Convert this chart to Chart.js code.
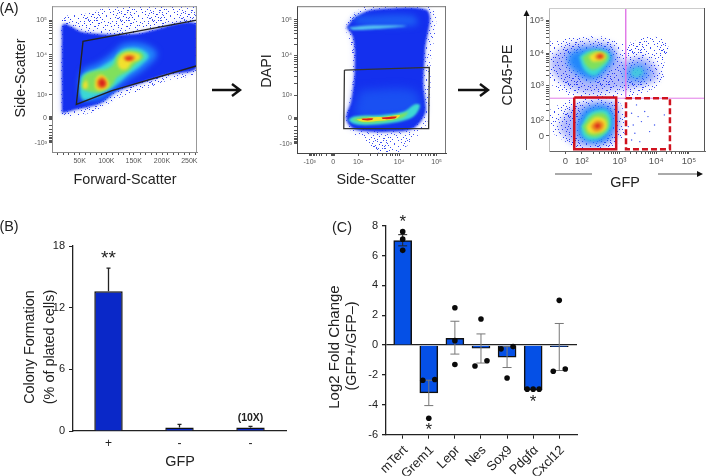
<!DOCTYPE html>
<html>
<head>
<meta charset="utf-8">
<title>Flow gating and colony formation</title>
<script src="https://cdn.jsdelivr.net/npm/chart.js@4/dist/chart.umd.min.js"></script>
<style>
html, body { margin: 0; padding: 0; background: #fff; }
#page { position: relative; width: 709px; height: 476px; overflow: hidden; font-family: "Liberation Sans", Arial, sans-serif; color: #222; }
canvas { position: absolute; left: 0; top: 0; }
svg { position: absolute; left: 0; top: 0; }
.txt { position: absolute; white-space: nowrap; transform: translate(-50%, -50%); font-size: 14.4px; line-height: 1; }
.rot { transform: translate(-50%, -50%) rotate(-90deg); }
</style>
</head>
<body>
<div id="page">
  <canvas id="a1" width="709" height="476"></canvas>
  <canvas id="a2" width="709" height="476"></canvas>
  <canvas id="a3" width="709" height="476"></canvas>
  <canvas id="b" width="709" height="476"></canvas>
  <canvas id="c" width="709" height="476"></canvas>
  <svg width="709" height="476">
    <g fill="none" stroke="#111" stroke-width="2.4">
      <path d="M212 90H239M232 84L240 90L232 96"/>
      <path d="M458 90H487M480 84L488 90L480 96"/>
    </g>
    <g fill="none" stroke="#555" stroke-width="1">
      <path d="M526.5 150V14"/>
      <path d="M555 174H592M658 174H698"/>
    </g>
    <path d="M526.5 10L523.5 16H529.5Z" fill="#111"/>
    <path d="M703 174L697 171V177Z" fill="#111"/>
  </svg>
  <div class="txt" style="left:9px;top:8px">(A)</div>
  <div class="txt" style="left:9px;top:226px">(B)</div>
  <div class="txt" style="left:342px;top:227px">(C)</div>
  <div class="txt rot" style="left:20px;top:78px">Side-Scatter</div>
  <div class="txt" style="left:125px;top:179px">Forward-Scatter</div>
  <div class="txt rot" style="left:266px;top:71px">DAPI</div>
  <div class="txt" style="left:376px;top:179px">Side-Scatter</div>
  <div class="txt rot" style="left:507px;top:75px">CD45-PE</div>
  <div class="txt" style="left:625px;top:182px">GFP</div>
  <div class="txt rot" style="left:29px;top:347px">Colony Formation</div>
  <div class="txt rot" style="left:49px;top:347px">(% of plated cells)</div>
  <div class="txt" style="left:180px;top:461px">GFP</div>
  <div class="txt rot" style="left:333px;top:347px;font-size:15px">Log2 Fold Change</div>
  <div class="txt rot" style="left:351px;top:346px">(GFP+/GFP&#8211;)</div>
</div>
<script>
// channel units: flow plots are read as display channels, not decades
const a1XTicks = [83, 163, 245, 330, 412];
const a1XLabels = ['50K', '100K', '150K', '200K', '250K'];
const a1YTicks = [397, 293, 172, 103, 28];
const a2XTicks = [38, 108, 183, 306, 418];
const a2XLabels = ['-10³', '0', '10³', '10⁴', '10⁵'];
const a2YTicks = [405, 297, 176, 105, 28];
const biexLabels = ['10⁵', '10⁴', '10³', '0', '-10³'];
const a3XTicks = [50, 100, 215, 327, 427];
const a3XLabels = ['0', '10²', '10³', '10⁴', '10⁵'];
const a3YTicks = [391, 293, 195, 91, 45];
const a3YLabels = ['10⁵', '10⁴', '10³', '10²', '0'];

const a1Speckle = [[28,110],[28,345],[35,405],[105,417],[175,435],[435,439],[435,245],[345,215],[265,185],[195,160],[145,130],[85,110]];
const a1Blue = [[30,117],[30,345],[35,385],[95,360],[245,355],[435,385],[435,255],[345,233],[265,207],[195,183],[145,147],[80,130]];
const a1Azure = [[85,155],[90,240],[145,270],[185,300],[215,325],[275,325],[315,295],[275,250],[230,220],[190,190],[145,160]];
const a1Cyan = [[83,180],[90,230],[135,250],[185,280],[210,307],[260,312],[290,290],[265,260],[230,235],[190,200],[145,175],[95,157]];
const a1Green = [[88,195],[97,230],[130,245],[165,250],[185,265],[195,290],[225,305],[265,300],[275,285],[250,265],[230,245],[195,225],[180,200],[145,180],[107,183]];
const a1YellowA = [[205,290],[225,300],[260,295],[263,280],[240,270],[225,250],[205,250],[197,270]];
const a1YellowB = [[130,220],[145,233],[165,220],[170,197],[145,185],[130,193]];
const a1YellowC = [[93,205],[103,217],[107,195],[95,190]];
const a1OrangeA = [[213,285],[230,293],[250,287],[243,277],[225,275]];
const a1OrangeB = [[135,215],[150,227],[163,213],[163,197],[145,191],[135,199]];
const a1RedA = [[217,283],[235,287],[243,281],[225,277]];
const a1RedB = [[140,212],[150,220],[160,210],[157,199],[145,197]];
const a1Gate = [[435,260],[180,185],[73,143],[93,333],[435,397]];
const a1EdgeTeal = [[434,439],[434,405]];
const a1EdgeRed = [[434,370],[434,285]];
const a1EdgeGreen = [[434,285],[434,265]];

const a2Speckle = [[163,420],[208,446],[403,446],[400,260],[398,160],[388,90],[348,40],[298,0],[248,0],[198,40],[163,65],[146,110],[158,160],[168,240],[158,340],[146,380]];
const a2Blue = [[148,382],[173,410],[228,435],[388,435],[383,310],[378,210],[383,160],[383,120],[348,75],[288,65],[218,65],[168,75],[148,105],[163,160],[173,260],[168,350]];
const a2AzureTop = [[173,415],[348,418],[358,388],[178,392]];
const a2AzureLow = [[188,190],[348,190],[368,140],[328,110],[178,110]];
const a2CyanBand = [[153,382],[228,388],[328,386],[228,376],[168,374]];
const a2CyanLow = [[153,102],[173,112],[248,115],[318,125],[353,148],[368,145],[353,115],[318,98],[258,88],[188,85],[163,92]];
const a2Green = [[163,102],[198,110],[258,110],[318,120],[333,125],[318,108],[258,95],[198,92]];
const a2Yellow = [[178,102],[218,108],[268,110],[308,115],[298,105],[248,98],[198,95]];
const a2OrangeA = [[193,104],[228,105],[223,100],[198,100]];
const a2OrangeB = [[253,108],[298,111],[293,105],[258,103]];
const a2Gate = [[142,252],[396,260],[394,74],[140,74],[142,252]];

const a3SpeckleUp = [[2,328],[62,338],[162,343],[232,323],[312,343],[362,323],[352,263],[347,213],[302,178],[232,163],[92,163],[32,178],[2,213]];
const a3SpeckleLow = [[2,123],[62,153],[202,155],[232,103],[222,33],[162,8],[92,8],[42,33],[7,63]];
const a3BlueUp = [[7,283],[62,318],[152,328],[202,313],[222,273],[282,283],[327,253],[332,218],[282,193],[212,183],[112,173],[42,203],[7,243]];
const a3BlueLow = [[27,73],[52,113],[92,143],[202,148],[217,93],[202,33],[152,13],[92,13],[47,43]];
const a3AzureUp = [[62,293],[112,308],[182,303],[197,278],[172,238],[132,213],[92,228],[57,263]];
const a3CyanUp = [[92,283],[122,301],[177,298],[187,278],[162,243],[137,225],[107,243]];
const a3GreenUp = [[102,281],[132,298],[174,293],[180,275],[157,253],[132,243],[112,258]];
const a3YellowUp = [[122,283],[147,296],[172,288],[167,273],[147,268],[132,268]];
const a3OrangeUp = [[140,285],[157,293],[169,283],[157,275],[144,276]];
const a3RedUp = [[147,285],[160,288],[164,281],[152,278]];
const a3AzureRight = [[232,248],[272,263],[302,248],[302,218],[262,208],[232,218]];
const a3CyanRight = [[252,243],[277,250],[287,233],[267,221],[252,225]];
const a3AzureLow = [[82,73],[107,123],[162,138],[192,123],[202,83],[177,33],[132,23],[92,43]];
const a3CyanLow = [[97,73],[122,113],[167,125],[187,108],[187,68],[157,38],[122,33],[102,48]];
const a3GreenLow = [[102,73],[132,108],[167,113],[182,93],[177,63],[147,43],[117,48]];
const a3YellowLow = [[114,75],[142,101],[172,93],[174,68],[147,53],[122,55]];
const a3OrangeLow = [[127,75],[147,91],[167,83],[162,65],[140,58]];
const a3RedLow = [[138,75],[150,82],[157,75],[147,68]];
const a3GfpDots = [[252,113],[272,103],[282,88],[307,58],[262,53],[242,73],[292,118],[322,78],[252,33],[277,28],[302,103],[352,108],[267,138],[257,78]];
const a3SolidGate = [[77,160],[205,160],[205,5],[77,5],[77,160]];
const a3DashGate = [[235,158],[369,158],[369,5],[235,5],[235,158]];
const a3QuadV = [[234,428],[234,158]];
const a3QuadH = [[0,158],[476,158]];
const a3TopLine = [[41,428],[407,428]];

const bLabels = ['+', '-', '-'];
const bValues = [13.6, 0.35, 0.35];
const bErrHigh = [15.85, 0.65, 0.45];

const cGenes = ['mTert', 'Grem1', 'Lepr', 'Nes', 'Sox9', 'Pdgfα', 'Cxcl12'];
const cValues = [7.0, -3.2, 0.45, -0.2, -0.8, -3.0, -0.1];
const cErrLow = [6.65, -4.05, -0.6, -1.2, -1.5, -3.0, -1.7];
const cErrHigh = [7.4, -2.35, 1.6, 0.75, -0.1, -3.0, 1.45];
const cDots = [[0,7.6],[0,7.1],[0,6.35],[0.77,-2.35],[1,-4.9],[1.23,-2.3],[2,2.5],[2,0.3],[2,-1.3],[2.77,-1.4],[3,1.75],[3.23,-1.05],[3.77,-0.25],[4,-2.2],[4.23,-0.1],[4.77,-2.95],[5,-2.95],[5.23,-2.95],[5.77,-1.75],[6,3.0],[6.23,-1.6]];

const BLUE = '#1430ee', AZURE = '#2288fb', CYAN = '#3cd8d4', GREEN = '#80e05c', YELLOW = '#f2e02e', ORANGE = '#ee8a22', RED = '#d8201c';
const HALO = 'rgba(50,70,245,0.38)';
const SOFT = 'blur(1.6px)', FAINT = 'blur(0.3px)', WIDE = 'blur(3px)';

Chart.defaults.font.family = '"Liberation Sans", Arial, sans-serif';
Chart.defaults.animation = false;
Chart.defaults.plugins.legend.display = false;
Chart.defaults.plugins.tooltip.enabled = false;
Chart.defaults.events = [];

// dot tile used as the fill for the sparse outer cells; the flips break up the lattice
function speckle(alpha, dense) {
    const dots = [[1,2],[5,0],[9,3],[14,1],[3,6],[7,5],[12,7],[15,4],[0,10],[4,9],[8,11],[13,9],[2,14],[6,13],[10,15],[14,12],[11,1],[1,7],[6,9],[10,6]];
    const tile = document.createElement('canvas');
    tile.width = tile.height = 32;
    const t = tile.getContext('2d');
    t.fillStyle = 'rgba(30,50,240,' + alpha + ')';
    dots.forEach((d, i) => {
        if (dense || i % 2) t.fillRect(d[0], d[1], 1, 1);
        if (dense || i % 3 === 0) t.fillRect(16 + d[1], d[0], 1, 1);
        if (dense || i % 2 === 0) t.fillRect(15 - d[0], 16 + d[1], 1, 1);
        if (dense || i % 3 === 1) t.fillRect(31 - d[1], 31 - d[0], 1, 1);
        if (dense) t.fillRect((d[0] + 20) % 32, (d[1] + 11) % 32, 1, 1);
    });
    return t.createPattern(tile, 'repeat');
}

function shape(pts, color, blur) {
    return {
        data: pts.concat([pts[0]]),
        showLine: true, fill: 'shape', backgroundColor: color,
        borderWidth: 0, pointRadius: 0, tension: 0.35, blur: blur || SOFT,
    };
}

function gate(pts, color, width, dash) {
    return {
        data: pts, showLine: true, fill: false, borderColor: color, borderWidth: width,
        borderDash: dash || [], pointRadius: 0, tension: 0, blur: 'none',
    };
}

function decades(from, to) {
    const out = [];
    [2, 3, 4, 5, 6, 7, 8, 9].forEach(k => out.push(from + (to - from) * Math.log10(k)));
    return out;
}

// filler paints before inline hooks run, so each dataset's filter is set after the previous one
const softFill = {
    id: 'softFill',
    beforeDraw(chart) {
        const ds = chart.data.datasets;
        chart.ctx.filter = ds[ds.length - 1].blur || 'none';
    },
    afterDatasetDraw(chart, args) {
        const next = chart.data.datasets[args.index - 1];
        chart.ctx.filter = next && next.blur ? next.blur : 'none';
    },
    afterDatasetsDraw(chart) {
        chart.ctx.filter = 'none';
    },
};

const frameBox = {
    id: 'frameBox',
    afterDraw(chart, args, opts) {
        const a = chart.chartArea, ctx = chart.ctx;
        ctx.save();
        ctx.lineWidth = 1;
        ctx.strokeStyle = opts.top;
        ctx.beginPath(); ctx.moveTo(a.left, a.top + 0.5); ctx.lineTo(a.right, a.top + 0.5); ctx.stroke();
        ctx.strokeStyle = opts.right;
        ctx.beginPath(); ctx.moveTo(a.right - 0.5, a.top); ctx.lineTo(a.right - 0.5, a.bottom); ctx.stroke();
        ctx.restore();
    },
};

function flowAxis(min, max, ticks, labels, minor, size, color, fixed) {
    const all = ticks.concat(minor);
    return {
        type: 'linear', min: min, max: max,
        afterBuildTicks: s => { s.ticks = all.map(v => ({ value: v })); },
        afterFit: s => { if (s.isHorizontal()) s.height = fixed; else s.width = fixed; },
        grid: { drawOnChartArea: false, tickLength: 3, tickColor: '#555', tickWidth: 1, z: 1 },
        border: { color: color, width: 1, z: 1 },
        ticks: {
            z: 1, autoSkip: false, maxRotation: 0, padding: 2, color: '#555',
            font: { size: size },
            callback: v => { const i = ticks.indexOf(v); return i < 0 ? '' : labels[i]; },
        },
    };
}

function flowChart(id, box, sets, xAxis, yAxis, top, right) {
    const xh = xAxis.afterFit ? 24 : 0, yw = 32;
    new Chart(document.getElementById(id), {
        type: 'scatter',
        data: { datasets: sets.slice().reverse() },
        options: {
            responsive: false,
            layout: { padding: { left: box.l - yw, top: box.t, right: 709 - box.r, bottom: 476 - box.b - xh } },
            scales: { x: xAxis, y: yAxis },
            plugins: { frameBox: { top: top, right: right } },
        },
        plugins: [softFill, frameBox],
    });
}

// error bars go on top of the bars but under the dots
function errorBars(values, low, high, width, cap, colorOf) {
    return {
        id: 'errorBars',
        afterDatasetDraw(chart, args) {
            if (args.meta.type !== 'bar') return;
            const ctx = chart.ctx, y = chart.scales.y;
            ctx.save();
            ctx.lineWidth = width;
            args.meta.data.forEach((bar, i) => {
                if (low[i] === high[i]) return;
                const yl = y.getPixelForValue(low[i]), yh = y.getPixelForValue(high[i]);
                ctx.strokeStyle = colorOf(i);
                ctx.beginPath();
                ctx.moveTo(bar.x, yl); ctx.lineTo(bar.x, yh);
                ctx.moveTo(bar.x - cap, yh); ctx.lineTo(bar.x + cap, yh);
                if (low[i] !== values[i]) { ctx.moveTo(bar.x - cap, yl); ctx.lineTo(bar.x + cap, yl); }
                ctx.stroke();
            });
            ctx.restore();
        },
    };
}

function marks(list) {
    return {
        id: 'marks',
        afterDatasetsDraw(chart) {
            const ctx = chart.ctx, xs = chart.scales.x, ys = chart.scales.y;
            ctx.save();
            ctx.textAlign = 'center';
            ctx.textBaseline = 'middle';
            ctx.fillStyle = '#222';
            list.forEach(m => {
                ctx.font = m.font;
                ctx.fillText(m.text, xs.getPixelForValue(m.x), ys.getPixelForValue(m.y));
            });
            ctx.restore();
        },
    };
}

const a1Minor = [];
for (let k = 0; k <= 26; k++) { if (k % 5) a1Minor.push(1.5 + k * 16.45); }

flowChart('a1', { l: 52, r: 197, t: 5, b: 152 }, [
    shape(a1Speckle, speckle(0.85), FAINT), shape(a1Speckle, speckle(0.85, true), 'blur(0.2px)'), shape(a1Blue, HALO, WIDE),
    shape(a1Blue, BLUE, 'blur(0.8px)'), shape(a1Azure, AZURE, WIDE), shape(a1Cyan, CYAN), shape(a1Green, GREEN),
    shape(a1YellowA, YELLOW), shape(a1YellowB, YELLOW), shape(a1YellowC, YELLOW),
    shape(a1OrangeA, ORANGE), shape(a1OrangeB, ORANGE), shape(a1RedA, RED), shape(a1RedB, RED),
    gate(a1Gate, '#222', 1.4),
    gate(a1EdgeTeal, '#2a9a9a', 1.5), gate(a1EdgeRed, '#c8143c', 1.5), gate(a1EdgeGreen, '#5aa03c', 1.5),
],
    flowAxis(0, 435, a1XTicks, a1XLabels, a1Minor, 7, '#888', 24),
    flowAxis(0, 439, a1YTicks, biexLabels, decades(293, 397).concat(decades(172, 293), decades(103, 28), [99, 101, 105, 107]), 7, '#888', 32),
    '#999', '#999');

flowChart('a2', { l: 297, r: 446, t: 5, b: 153 }, [
    shape(a2Speckle, speckle(0.85, true), FAINT), shape(a2Blue, HALO, WIDE), shape(a2Blue, BLUE, 'blur(1.2px)'),
    shape(a2AzureTop, '#1c5cf4', WIDE), shape(a2AzureLow, '#1a50f2', 'blur(5px)'),
    shape(a2CyanBand, '#55c4f0', 'blur(1px)'), shape(a2CyanLow, CYAN, 'blur(1.2px)'), shape(a2Green, GREEN, 'blur(0.8px)'),
    shape(a2Yellow, YELLOW, 'blur(0.6px)'), shape(a2OrangeA, RED, 'blur(0.5px)'), shape(a2OrangeB, RED, 'blur(0.5px)'),
    gate(a2Gate, '#333', 1.3),
],
    flowAxis(0, 446, a2XTicks, a2XLabels, decades(183, 306).concat(decades(306, 418), decades(108, 38), [104, 106, 110, 112]), 7, '#444', 24),
    flowAxis(0, 446, a2YTicks, biexLabels, decades(297, 405).concat(decades(176, 297), decades(105, 28), [101, 103, 107, 109]), 7, '#444', 32),
    '#777', '#777');

flowChart('a3', { l: 549, r: 708, t: 8, b: 151 }, [
    shape(a3SpeckleUp, speckle(0.9, true), FAINT), shape(a3SpeckleLow, speckle(0.9, true), FAINT),
    shape(a3BlueUp, speckle(1, true), FAINT), shape(a3BlueUp, HALO, WIDE), shape(a3BlueLow, speckle(1, true), FAINT), shape(a3BlueLow, HALO, WIDE),
    shape(a3AzureUp, AZURE, WIDE), shape(a3AzureRight, 'rgba(34,136,251,0.6)', WIDE), shape(a3AzureLow, AZURE, WIDE),
    shape(a3CyanUp, CYAN), shape(a3CyanRight, 'rgba(60,216,212,0.7)'), shape(a3CyanLow, CYAN),
    shape(a3GreenUp, GREEN), shape(a3GreenLow, GREEN), shape(a3YellowUp, YELLOW), shape(a3YellowLow, YELLOW),
    shape(a3OrangeUp, ORANGE), shape(a3OrangeLow, ORANGE), shape(a3RedUp, RED), shape(a3RedLow, RED),
    { data: a3GfpDots, pointRadius: 0.7, backgroundColor: '#3a50f0', pointBorderWidth: 0, blur: 'none' },
    gate(a3QuadV, '#e27ce8', 1), gate(a3QuadH, '#e27ce8', 1),
    gate(a3TopLine, '#555', 1),
    gate(a3SolidGate, '#d0121e', 2.5), gate(a3DashGate, '#d0121e', 2.5, [6, 3]),
],
    flowAxis(0, 476, a3XTicks, a3XLabels, decades(100, 215).concat(decades(215, 327), decades(327, 427)), 9.5, '#666', 24),
    flowAxis(0, 428, a3YTicks, a3YLabels, decades(195, 293).concat(decades(293, 391), decades(91, 195)), 9.5, '#bbb', 32),
    '#ccc', '#555');

new Chart(document.getElementById('b'), {
    type: 'bar',
    data: {
        labels: bLabels,
        datasets: [{
            data: bValues, backgroundColor: '#0a28c8', borderColor: '#111', borderWidth: 1.5,
            barPercentage: 0.4, categoryPercentage: 1,
        }],
    },
    options: {
        responsive: false,
        layout: { padding: { left: 73 - 30, top: 246, right: 709 - 286, bottom: 476 - 431 - 24 } },
        scales: {
            x: {
                afterFit: s => { s.height = 24; },
                grid: { display: false, drawTicks: false }, border: { color: '#222', width: 1.3 },
                ticks: { color: '#222', font: { size: 12 }, padding: 5 },
            },
            y: {
                min: 0, max: 18,
                afterFit: s => { s.width = 30; },
                grid: { drawOnChartArea: false, tickLength: 4, tickColor: '#222' },
                border: { color: '#222', width: 1.3 },
                ticks: { stepSize: 6, color: '#222', font: { size: 11 }, padding: 4 },
            },
        },
    },
    plugins: [
        errorBars(bValues, bValues, bErrHigh, 1.3, 2, () => '#222'),
        marks([
            { x: 0, y: 16.8, text: '**', font: '19px "Liberation Sans"' },
            { x: 2, y: 1.3, text: '(10X)', font: 'bold 10.5px "Liberation Sans"' },
        ]),
    ],
});

new Chart(document.getElementById('c'), {
    type: 'bar',
    data: {
        datasets: [
            {
                type: 'scatter', data: cDots, pointRadius: 2.8, backgroundColor: '#0a0a0a',
                pointBorderWidth: 0,
            },
            {
                type: 'bar', data: cValues.map((v, i) => ({ x: i, y: v })),
                backgroundColor: '#0550e6', borderColor: '#111', borderWidth: 1.5, barThickness: 18,
            },
        ],
    },
    options: {
        responsive: false,
        layout: { padding: { left: 386 - 30, top: 225.7, right: 709 - 577, bottom: 476 - 434.7 - 41 } },
        scales: {
            x: {
                type: 'linear', offset: false, min: -0.64, max: 6.68,
                afterBuildTicks: s => { s.ticks = cGenes.map((g, i) => ({ value: i })); },
                afterFit: s => { s.height = 41; },
                grid: { drawOnChartArea: false, offset: false, tickLength: 4, tickColor: '#222' },
                border: { color: '#222', width: 1.3 },
                ticks: {
                    autoSkip: false, minRotation: 45, maxRotation: 45, color: '#222', padding: 4, labelOffset: 3,
                    font: { size: 13 }, callback: v => cGenes[v],
                },
            },
            y: {
                min: -6, max: 8,
                afterFit: s => { s.width = 30; },
                grid: {
                    tickLength: 4, tickColor: '#222', lineWidth: 1.3,
                    color: ctx => (ctx.tick && ctx.tick.value === 0 ? '#222' : 'transparent'),
                },
                border: { color: '#222', width: 1.3 },
                ticks: { stepSize: 2, color: '#222', font: { size: 11 }, padding: 4 },
            },
        },
    },
    plugins: [
        errorBars(cValues, cErrLow, cErrHigh, 1, 4.5, i => (i === 0 ? '#222' : '#777')),
        marks([
            { x: 0, y: 8.2, text: '*', font: '17px "Liberation Sans"' },
            { x: 1, y: -5.7, text: '*', font: '17px "Liberation Sans"' },
            { x: 5, y: -3.8, text: '*', font: '17px "Liberation Sans"' },
        ]),
    ],
});
</script>
</body>
</html>
